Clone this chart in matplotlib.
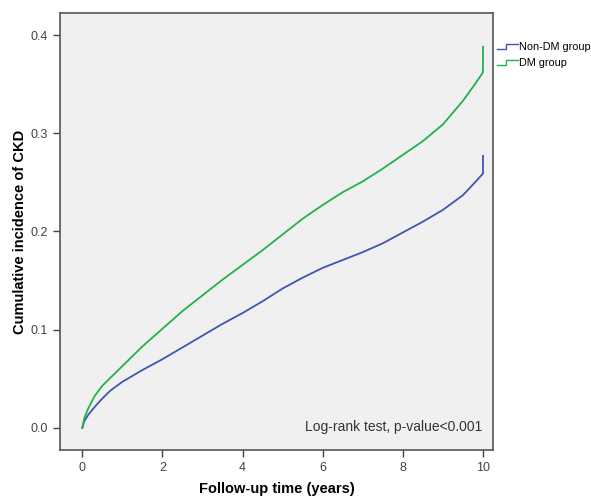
import matplotlib
matplotlib.use("Agg")
import matplotlib.pyplot as plt
from matplotlib.legend_handler import HandlerBase
from matplotlib.lines import Line2D

plt.rcParams["font.family"] = ["Liberation Sans", "DejaVu Sans"]

# follow-up time (years) and cumulative incidence
years = [0, 0.05, 0.15, 0.3, 0.5, 0.7, 1.0, 1.5, 2.0, 2.5, 3.0, 3.5, 4.0,
         4.5, 5.0, 5.5, 6.0, 6.5, 7.0, 7.5, 8.0, 8.5, 9.0, 9.5, 9.8, 10.0,
         10.0]
non_dm = [0, 0.007, 0.0135, 0.021, 0.030, 0.038, 0.047, 0.059, 0.070, 0.082,
          0.094, 0.106, 0.117, 0.129, 0.142, 0.153, 0.163, 0.171, 0.179,
          0.188, 0.199, 0.210, 0.222, 0.237, 0.250, 0.259, 0.277]
dm = [0, 0.010, 0.020, 0.032, 0.043, 0.051, 0.063, 0.083, 0.101, 0.119,
      0.135, 0.151, 0.166, 0.181, 0.197, 0.213, 0.227, 0.240, 0.251, 0.264,
      0.278, 0.292, 0.309, 0.333, 0.350, 0.362, 0.388]

x_ticks = [0, 2, 4, 6, 8, 10]
y_ticks = [0.0, 0.1, 0.2, 0.3, 0.4]

BLUE = "#3f55b0"
GREEN = "#22b14c"


class StepHandler(HandlerBase):
    # little step glyph like the SPSS legend
    def create_artists(self, legend, orig, xd, yd, w, h, fontsize, trans):
        xs = [xd, xd + w * 0.45, xd + w * 0.45, xd + w]
        ys = [yd + h * 0.2, yd + h * 0.2, yd + h * 0.8, yd + h * 0.8]
        ln = Line2D(xs, ys, color=orig.get_color(), lw=1.0, transform=trans)
        return [ln]


fig = plt.figure(figsize=(5.91, 4.98), dpi=100)
ax = fig.add_axes([60 / 591, 1 - 450 / 498, 433 / 591, 437 / 498])
ax.set_facecolor("#f0f0f0")

l1, = ax.plot(years, non_dm, color=BLUE, lw=1.3, label="Non-DM group")
l2, = ax.plot(years, dm, color=GREEN, lw=1.3, label="DM group")

ax.set_xlim(-0.556, 10.25)
ax.set_ylim(-0.0224, 0.4224)
ax.set_xticks(x_ticks)
ax.set_xticklabels([str(t) for t in x_ticks])
ax.set_yticks(y_ticks)
ax.set_yticklabels(["%.1f" % t for t in y_ticks])
ax.tick_params(direction="out", length=5, width=1.0, color="#444444",
               labelsize=9, labelcolor="#444444")
for s in ax.spines.values():
    s.set_color("#555555")
    s.set_linewidth(1.2)

ax.set_xlabel("Follow-up time (years)", fontsize=10.5, fontweight="bold",
              labelpad=6)
ax.set_ylabel("Cumulative incidence of CKD", fontsize=10.5,
              fontweight="bold", labelpad=3)

ax.text(0.975, 0.053, "Log-rank test, p-value<0.001", transform=ax.transAxes,
        ha="right", va="center", fontsize=10, color="#333333")

fig.legend(handles=[l1, l2], loc="upper left",
           bbox_to_anchor=(496 / 591, 1 - 41 / 498), frameon=False,
           fontsize=7.8, handlelength=1.9, handletextpad=0.1,
           labelspacing=0.55, borderpad=0.1, borderaxespad=0.0,
           handler_map={Line2D: StepHandler()})

fig.savefig("out.png", dpi=100)
